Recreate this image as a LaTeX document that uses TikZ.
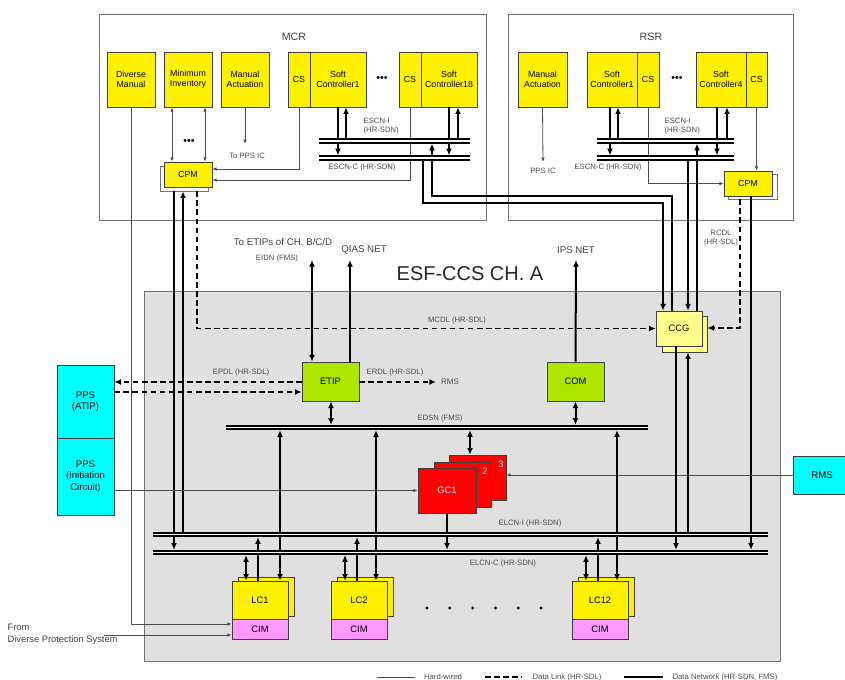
\documentclass[tikz,border=0pt]{standalone}
\usepackage{fontspec}
\setmainfont{Liberation Sans}
\usetikzlibrary{arrows.meta}
\definecolor{paleY}{HTML}{FFFF8C}
\definecolor{limeG}{HTML}{AEE600}
\definecolor{pinkC}{HTML}{FF99FF}
\definecolor{cyanC}{HTML}{00FFFF}
\newcommand{\blk}[7]{%
  % name, style, left, top, right, bottom (in pixels), text.
  \node[blk,#2,minimum width={((#5)-(#3))*0.75pt},minimum height={((#6)-(#4))*0.75pt}]
    (#1) at ({((#3)+(#5))/2},{((#4)+(#6))/2}) {#7};
}

\begin{document}
\begin{tikzpicture}[x=0.75pt,y=-0.75pt,
  blk/.style={draw=black!75,line width=0.5pt,inner sep=0pt,align=center,
    font=\fontsize{6.6}{7.8}\selectfont},
  room/.style={draw=black!55,fill=white},
  esfbox/.style={draw=black!55,fill=black!12},
  ybox/.style={fill=yellow},
  wbox/.style={fill=white,draw=black!55},
  cbox/.style={fill=paleY,font=\fontsize{7}{8}\selectfont},
  gbox/.style={fill=limeG,font=\fontsize{7}{8}\selectfont},
  rbox/.style={fill=red,text=white,font=\fontsize{7}{8}\selectfont},
  cybox/.style={fill=cyanC,font=\fontsize{7.2}{8.6}\selectfont},
  pbox/.style={fill=pinkC,font=\fontsize{7}{8}\selectfont},
  lbl/.style={font=\fontsize{5.8}{7}\selectfont,text=black!70,inner sep=1pt},
  big/.style={font=\fontsize{7.3}{8.6}\selectfont,text=black!75,inner sep=1pt},
  wire/.style={draw=black!70,line width=0.6pt,>={Latex[length=3.2pt,width=2.6pt]}},
  net/.style={line width=1.5pt,>={Latex[length=5pt,width=4.4pt]}},
  link/.style={line width=1.1pt,dash pattern=on 4.2pt off 2.6pt,>={Latex[length=5pt,width=4.4pt]}},
  bus/.style={double,double distance=1.1pt,line width=1.4pt},
  be/.style={shorten >=2pt},
  bs/.style={shorten <=2pt}]
  \useasboundingbox (0,0) rectangle (845,680);

  % rooms and cabinet
  \blk{mcr}{room}{99}{14}{486}{220}{}
  \blk{rsr}{room}{508}{14}{793}{220}{}
  \blk{esf}{esfbox}{144}{291}{780}{661}{}
  \node[font=\fontsize{8}{9}\selectfont,text=black!75] (tmcr) at (294,37) {MCR};
  \node[font=\fontsize{8}{9}\selectfont,text=black!75] (trsr) at (651,37) {RSR};
  \node[font=\fontsize{15}{17}\selectfont,text=black!85] (tesf) at (470,274) {ESF-CCS CH. A};

  % MCR
  \blk{dm}{ybox}{107}{52}{155}{107}{Diverse\\Manual}
  \blk{mi}{ybox}{164}{52}{212}{107}{Minimum\\Inventory}
  \blk{ma}{ybox}{221}{52}{269}{107}{Manual\\Actuation}
  \blk{mcs1}{ybox}{288}{52}{310}{107}{CS}
  \blk{msc1}{ybox}{310}{52}{366}{107}{Soft\\Controller1}
  \blk{mcs18}{ybox}{399}{52}{421}{107}{CS}
  \blk{msc18}{ybox}{421}{52}{477}{107}{Soft\\Controller18}
  \node[font=\fontsize{8}{8}\selectfont] (mdots) at (382,79) {\textbullet\textbullet\textbullet};
  \node[font=\fontsize{8}{8}\selectfont] (idots) at (189,142) {\textbullet\textbullet\textbullet};
  \blk{mcpmS}{wbox}{160}{166}{208}{191}{}
  \blk{mcpm}{ybox}{164}{162}{212}{187}{CPM}

  % RSR
  \blk{rma}{ybox}{518}{52}{567}{107}{Manual\\Actuation}
  \blk{rsc1}{ybox}{587}{52}{637}{107}{Soft\\Controller1}
  \blk{rcs1}{ybox}{637}{52}{659}{107}{CS}
  \blk{rsc4}{ybox}{696}{52}{746}{107}{Soft\\Controller4}
  \blk{rcs4}{ybox}{746}{52}{767}{107}{CS}
  \node[font=\fontsize{8}{8}\selectfont] (rdots) at (677,79) {\textbullet\textbullet\textbullet};
  \blk{rcpmS}{wbox}{728}{174}{777}{199}{}
  \blk{rcpm}{ybox}{724}{171}{772}{196}{CPM}

  % ESF-CCS
  \blk{ccgS}{cbox}{662}{316}{707}{352}{}
  \blk{ccg}{cbox}{656}{311}{702}{346}{CCG}
  \blk{etip}{gbox}{302}{362}{359}{401}{ETIP}
  \blk{com}{gbox}{547}{362}{604}{401}{COM}
  \blk{gc3}{rbox}{449}{455}{506}{500}{}
  \blk{gc2}{rbox}{434}{462}{491}{507}{}
  \blk{gc1}{rbox}{418}{468}{476}{513}{GC1}
  \node[font=\fontsize{7}{7}\selectfont,text=white] (gc3n) at (501,464) {3};
  \node[font=\fontsize{7}{7}\selectfont,text=white] (gc2n) at (485,471) {2};
  \foreach \n/\x in {1/232,2/331,12/572}{
    \blk{lcS\n}{ybox}{\x+6}{577}{\x+62}{616}{}
    \blk{lc\n}{ybox,font=\fontsize{7}{8}\selectfont}{\x}{581}{\x+56}{619}{LC\n}
    \blk{cim\n}{pbox}{\x}{619}{\x+56}{639}{CIM}
  }
  \foreach \i in {0,...,5}{\fill ({427+\i*22.8},608) circle (1.2pt);}

  % outside
  \blk{ppsa}{cybox}{57}{365}{114}{438}{PPS\\(ATIP)}
  \blk{ppsi}{cybox}{57}{438}{114}{515}{PPS\\(Initiation\\Circuit)}
  \blk{rms}{cybox}{793}{456}{851}{494}{RMS}
  \node[big,anchor=west,align=left,font=\fontsize{7}{9}\selectfont] (tdps) at (6,634) {From\\Diverse Protection System};

  % labels
  \node[lbl,anchor=west,align=left] (tmi) at (362,126) {ESCN-I\\(HR-SDN)};
  \node[lbl] (tmc) at (362,168) {ESCN-C (HR-SDN)};
  \node[lbl,anchor=west,align=left] (tri) at (663,126) {ESCN-I\\(HR-SDN)};
  \node[lbl] (trc) at (608,168) {ESCN-C (HR-SDN)};
  \node[lbl] (tmpps) at (247,156) {To PPS IC};
  \node[lbl] (trpps) at (543,171) {PPS IC};
  \node[big] (tetips) at (283,242) {To ETIPs of CH. B/C/D};
  \node[lbl] (teidn) at (277,259) {EIDN (FMS)};
  \node[big] (tqias) at (364,250) {QIAS NET};
  \node[big] (tips) at (576,250) {IPS NET};
  \node[lbl] (tmcdl) at (457,320) {MCDL (HR-SDL)};
  \node[lbl,align=center] (trcdl) at (721,238) {RCDL\\(HR-SDL)};
  \node[lbl] (tepdl) at (241,372) {EPDL (HR-SDL)};
  \node[lbl] (terdl) at (395,372) {ERDL (HR-SDL)};
  \node[lbl,font=\fontsize{6}{7}\selectfont] (trms) at (450,382) {RMS};
  \node[lbl] (tedsn) at (440,418) {EDSN (FMS)};
  \node[lbl] (teli) at (530,523) {ELCN-I (HR-SDN)};
  \node[lbl] (telc) at (503,563) {ELCN-C (HR-SDN)};

  % bus coordinates and free ends
  \coordinate (mI) at (319,141); \coordinate (mC) at (319,158);
  \coordinate (rI) at (597,141); \coordinate (rC) at (597,158);
  \coordinate (eds) at (226,427.5);
  \coordinate (lI) at (153,534.5); \coordinate (lC) at (153,552.5);
  \coordinate (mpps) at (245,144); \coordinate (rpps) at (543,162);
  \coordinate (eidn) at (312,260); \coordinate (qias) at (350,260);
  \coordinate (ipsn) at (576,260); \coordinate (erms) at (436,382);
  \coordinate (dps) at (104,635);

  % MCR connections
  \draw[wire,<->] (172,0 |- mi.south) -- (172,0 |- mcpm.north);
  \draw[wire,<->] (205,0 |- mi.south) -- (205,0 |- mcpm.north);
  \draw[wire,->] (ma.south) -- (mpps);
  \draw[wire,->] (mcs1.south) |- (mcpm.east |- 0,169);
  \draw[wire,->] (mcs18.south) |- (mcpm.east |- 0,180);
  \draw[net,->,be] (338,0 |- msc1.south) -- (338,0 |- mC);
  \draw[net,->] (346,0 |- mI) -- (346,0 |- msc1.south);
  \draw[net,->,be] (449,0 |- msc18.south) -- (449,0 |- mC);
  \draw[net,->] (458,0 |- mI) -- (458,0 |- msc18.south);
  \draw[net,->] (423,0 |- mC) |- (663,203) -- (663,0 |- ccg.north);
  \draw[net,->,be] (672,0 |- ccg.north) |- (432,196) -- (432,0 |- mI);

  % RSR connections
  \draw[wire,->] (rma.south) -- (rpps);
  \draw[net,->,be] (610,0 |- rsc1.south) -- (610,0 |- rC);
  \draw[net,->] (618,0 |- rI) -- (618,0 |- rsc1.south);
  \draw[net,->,be] (717,0 |- rsc4.south) -- (717,0 |- rC);
  \draw[net,->] (727,0 |- rI) -- (727,0 |- rsc4.south);
  \draw[wire,->] (rcs1.south) |- (rcpm.west);
  \draw[wire,->] (rcs4.south) -- (rcs4.south |- rcpm.north);
  \draw[net,->] (688,0 |- rC) -- (688,0 |- ccg.north);
  \draw[net,->,be] (697,0 |- ccg.north) -- (697,0 |- rI);
  \draw[link,->] (740,0 |- rcpmS.south) |- (ccgS.east |- 0,328);
  \draw[net,->,be] (751,0 |- rcpm.south) -- (751,0 |- lC);

  % CPM of MCR
  \draw[net,->,be] (174,0 |- mcpmS.south) -- (174,0 |- lC);
  \draw[net,->] (183,0 |- lI) -- (183,0 |- mcpmS.south);
  \draw[link,->] (197,0 |- mcpmS.south) |- (ccg.west);

  % ESF-CCS connections
  \draw[net,<->] (312,0 |- etip.north) -- (eidn);
  \draw[net,->] (350,0 |- etip.north) -- (qias);
  \draw[link,->] (etip.west |- 0,382) -- (ppsa.east |- 0,382);
  \draw[link,->] (ppsa.east |- 0,392) -- (etip.west |- 0,392);
  \draw[link,->] (etip.east |- 0,382) -- (erms);
  \draw[net,<->,be] (331,0 |- etip.south) -- (331,0 |- eds);
  \draw[net,->] (com.north) -- (ipsn);
  \draw[net,<->,be] (com.south) -- (com.south |- eds);
  \draw[net,<->,bs] (470,0 |- eds) -- (470,0 |- gc3.north);
  \draw[net,->,be] (gc1.south) -- (gc1.south |- lC);
  \draw[wire,->] (ppsi.east |- gc1.west) -- (gc1.west);
  \draw[wire,->] (rms.west) -- (gc3.east |- rms.west);
  \draw[net,->,be] (676,0 |- ccg.south) -- (676,0 |- lC);
  \draw[net,->] (688,0 |- lI) -- (688,0 |- ccgS.south);
  \draw[wire,->] (dm.south) |- (cim1.west |- 0,624);
  \draw[wire,->] (dps) -- (cim1.west |- dps);
  \foreach \n/\x/\e in {1/232/48,2/331/45,12/572/45}{
    \draw[net,<->,bs] ({\x+14},0 |- lC) -- ({\x+14},0 |- lc\n.north);
    \draw[net,->,be] ({\x+26},0 |- lc\n.north) -- ({\x+26},0 |- lI);
    \draw[net,<->,bs] ({\x+\e},0 |- eds) -- ({\x+\e},0 |- lc\n.north);
  }

  % buses
  \draw[bus] (mI) -- (mI -| 470,0);
  \draw[bus] (mC) -- (mC -| 470,0);
  \draw[bus] (rI) -- (rI -| 734,0);
  \draw[bus] (rC) -- (rC -| 734,0);
  \draw[bus] (eds) -- (eds -| 648,0);
  \draw[bus] (lI) -- (lI -| 768,0);
  \draw[bus] (lC) -- (lC -| 768,0);

  % legend
  \draw[wire] (377,677) -- (415,677);
  \node[lbl] (lgw) at (443,677) {Hard-wired};
  \draw[link] (485,677) -- (522,677);
  \node[lbl] (lgl) at (567,677) {Data Link (HR-SDL)};
  \draw[net] (624,677) -- (663,677);
  \node[lbl] (lgn) at (725,677) {Data Network (HR-SDN, FMS)};
\end{tikzpicture}
\end{document}
